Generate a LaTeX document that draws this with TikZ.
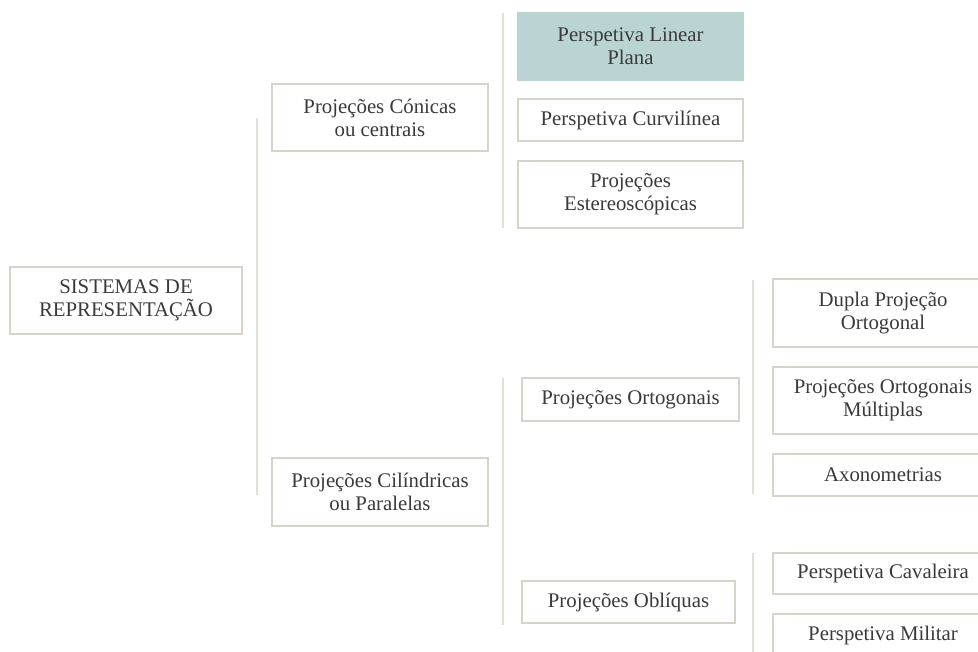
\documentclass[tikz,border=0pt]{standalone}
\usepackage{fontspec}
\setmainfont{Liberation Serif}
\definecolor{frame}{HTML}{D8D3CA}
\definecolor{rule}{HTML}{E4DFD6}
\definecolor{ink}{HTML}{3A3A3A}
\definecolor{tealfill}{HTML}{B9D4D3}
\tikzset{
  box/.style={draw=frame, line width=1.5pt, fill=white, inner sep=0pt,
    align=center, text=ink, font=\fontsize{15.6}{17.3}\selectfont},
  hilite/.style={box, draw=tealfill, fill=tealfill},
  rail/.style={draw=rule, line width=1.4pt}
}
\begin{document}
\begin{tikzpicture}[x=0.75pt,y=-0.75pt]
\useasboundingbox (0,0) rectangle (978,652);
\clip (0,0) rectangle (978,652);

% root
\node[box, minimum width=232*0.75pt, minimum height=67*0.75pt] (root) at (126,300.5)
  {SISTEMAS DE\\REPRESENTAÇÃO};

% second level
\node[box, minimum width=216*0.75pt, minimum height=67*0.75pt] (conic) at (380,117.5)
  {Projeções Cónicas\\ou centrais};
\node[box, minimum width=216*0.75pt, minimum height=68*0.75pt] (cyl) at (380,492)
  {Projeções Cilíndricas\\ou Paralelas};

% conic family
\node[hilite, minimum width=225*0.75pt, minimum height=67*0.75pt] (linear) at (630.5,46.5)
  {Perspetiva Linear\\Plana};
\node[box, minimum width=225*0.75pt, minimum height=42*0.75pt] (curvi) at (630.5,120)
  {Perspetiva Curvilínea};
\node[box, minimum width=225*0.75pt, minimum height=67*0.75pt] (stereo) at (630.5,194.5)
  {Projeções\\Estereoscópicas};

% cylindrical family
\node[box, minimum width=217*0.75pt, minimum height=43*0.75pt] (ortho) at (630.5,399.5)
  {Projeções Ortogonais};
\node[box, minimum width=213*0.75pt, minimum height=42*0.75pt] (obliq) at (628.5,602)
  {Projeções Oblíquas};

% orthogonal family
\node[box, minimum width=220*0.75pt, minimum height=67*0.75pt] (dupla) at (883,313)
  {Dupla Projeção\\Ortogonal};
\node[box, minimum width=220*0.75pt, minimum height=67*0.75pt] (multi) at (883,400.5)
  {Projeções Ortogonais\\Múltiplas};
\node[box, minimum width=220*0.75pt, minimum height=42*0.75pt] (axono) at (883,474.5)
  {Axonometrias};

% oblique family
\node[box, minimum width=220*0.75pt, minimum height=41*0.75pt] (caval) at (883,573.5)
  {Perspetiva Cavaleira};
\node[box, minimum width=220*0.75pt, minimum height=42*0.75pt] (milit) at (883,635)
  {Perspetiva Militar};

% grouping rails
\coordinate (r1a) at (257,118);  \coordinate (r1b) at (257,495);
\coordinate (r2a) at (503,13);   \coordinate (r2b) at (503,228);
\coordinate (r3a) at (503,378);  \coordinate (r3b) at (503,625);
\coordinate (r4a) at (753,280);  \coordinate (r4b) at (753,494);
\coordinate (r5a) at (753,553);  \coordinate (r5b) at (753,652);
\draw[rail] (r1a) -- (r1b);
\draw[rail] (r2a) -- (r2b);
\draw[rail] (r3a) -- (r3b);
\draw[rail] (r4a) -- (r4b);
\draw[rail] (r5a) -- (r5b);
\end{tikzpicture}
\end{document}
